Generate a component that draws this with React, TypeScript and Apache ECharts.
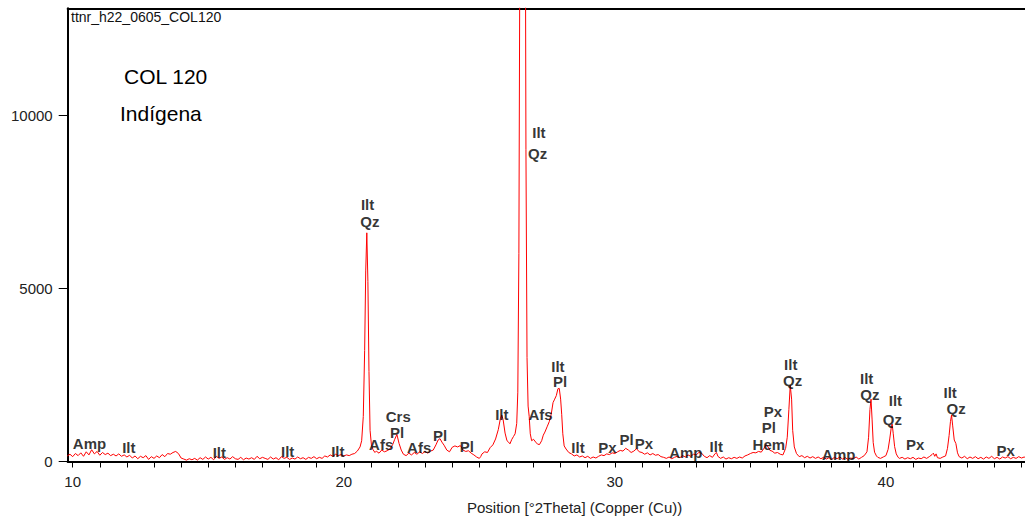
import React, { useEffect, useRef } from "react";
import * as echarts from "echarts";

// Measured XRD pattern: [2Theta, counts]
const pattern: [number, number][] = [
  [9.8, 160], [9.9, 210], [10.0, 140], [10.1, 230], [10.2, 170], [10.3, 250], [10.4, 150], [10.5, 280],
  [10.6, 190], [10.7, 340], [10.8, 220], [10.9, 290], [11.0, 180], [11.1, 260], [11.2, 200], [11.3, 240],
  [11.4, 170], [11.5, 210], [11.6, 160], [11.7, 220], [11.8, 150], [11.9, 190], [12.0, 130], [12.1, 180],
  [12.2, 100], [12.3, 160], [12.4, 80], [12.5, 150], [12.6, 110], [12.7, 170], [12.8, 60], [12.9, 140],
  [13.0, 90], [13.1, 160], [13.2, 110], [13.3, 200], [13.4, 140], [13.5, 230], [13.6, 210], [13.7, 260],
  [13.8, 290], [13.9, 230], [14.0, 100], [14.1, 70], [14.2, 40], [14.3, 80], [14.4, 50], [14.5, 90],
  [14.6, 40], [14.7, 110], [14.8, 60], [14.9, 130], [15.0, 70], [15.1, 120], [15.2, 50], [15.3, 150],
  [15.4, 90], [15.5, 130], [15.6, 60], [15.7, 110], [15.8, 70], [15.9, 140], [16.0, 80], [16.1, 60],
  [16.2, 120], [16.3, 50], [16.4, 100], [16.5, 70], [16.6, 110], [16.7, 60], [16.8, 150], [16.9, 80],
  [17.0, 120], [17.1, 90], [17.2, 60], [17.3, 130], [17.4, 70], [17.5, 110], [17.6, 50], [17.7, 140],
  [17.8, 90], [17.9, 120], [18.0, 60], [18.1, 100], [18.2, 70], [18.3, 130], [18.4, 80], [18.5, 110],
  [18.6, 60], [18.7, 120], [18.8, 90], [18.9, 140], [19.0, 80], [19.1, 120], [19.2, 90], [19.3, 160],
  [19.4, 130], [19.5, 190], [19.6, 150], [19.7, 210], [19.8, 170], [19.9, 200], [20.0, 160], [20.1, 190],
  [20.2, 170], [20.3, 210], [20.4, 230], [20.5, 300], [20.6, 420], [20.66, 600], [20.72, 1300],
  [20.77, 3200], [20.81, 5500], [20.85, 6600], [20.89, 5200], [20.93, 2600], [20.97, 900], [21.02, 480],
  [21.08, 340], [21.15, 260], [21.2, 300], [21.3, 240], [21.4, 330], [21.5, 280], [21.6, 310],
  [21.7, 360], [21.8, 480], [21.88, 640], [21.96, 780], [22.04, 520], [22.12, 330], [22.2, 210],
  [22.3, 170], [22.4, 240], [22.5, 190], [22.6, 260], [22.7, 210], [22.8, 280], [22.9, 230], [23.0, 290],
  [23.1, 240], [23.2, 300], [23.3, 330], [23.4, 480], [23.48, 620], [23.55, 660], [23.62, 560],
  [23.7, 470], [23.8, 330], [23.9, 280], [24.0, 410], [24.1, 450], [24.2, 420], [24.3, 460], [24.4, 330],
  [24.5, 290], [24.6, 310], [24.7, 240], [24.8, 190], [24.9, 130], [25.0, 90], [25.05, 140], [25.1, 220],
  [25.2, 280], [25.3, 260], [25.4, 400], [25.5, 480], [25.6, 650], [25.7, 920], [25.78, 1250],
  [25.83, 1340], [25.88, 1200], [25.95, 820], [26.02, 600], [26.08, 560], [26.13, 510], [26.2, 640],
  [26.26, 720], [26.32, 800], [26.38, 1100], [26.42, 2000], [26.46, 6000], [26.5, 16000], [26.56, 30000],
  [26.62, 34000], [26.68, 22000], [26.72, 9000], [26.76, 3000], [26.8, 1600], [26.84, 1300], [26.88, 800],
  [26.93, 600], [27.0, 640], [27.08, 560], [27.15, 500], [27.22, 490], [27.3, 600], [27.36, 760],
  [27.42, 850], [27.5, 1000], [27.58, 1150], [27.65, 1350], [27.72, 1700], [27.78, 1800], [27.84, 1900],
  [27.9, 2100], [27.95, 2110], [28.0, 1800], [28.04, 1350], [28.08, 800], [28.13, 450], [28.2, 360],
  [28.3, 260], [28.4, 220], [28.5, 160], [28.6, 190], [28.7, 130], [28.8, 160], [28.9, 110], [29.0, 150],
  [29.1, 90], [29.2, 130], [29.3, 100], [29.4, 150], [29.5, 190], [29.6, 170], [29.7, 220], [29.8, 200],
  [29.9, 250], [30.0, 230], [30.1, 280], [30.2, 320], [30.3, 300], [30.4, 380], [30.5, 330], [30.6, 260],
  [30.7, 300], [30.8, 370], [30.9, 280], [31.0, 260], [31.1, 210], [31.2, 250], [31.3, 190], [31.4, 230],
  [31.5, 180], [31.6, 200], [31.7, 140], [31.8, 120], [31.9, 90], [32.0, 130], [32.1, 80], [32.2, 120],
  [32.3, 150], [32.4, 110], [32.5, 170], [32.6, 130], [32.7, 190], [32.8, 150], [32.9, 210], [33.0, 190],
  [33.1, 260], [33.2, 240], [33.3, 150], [33.4, 110], [33.5, 170], [33.6, 120], [33.7, 230], [33.75, 260],
  [33.8, 150], [33.9, 90], [34.0, 130], [34.1, 70], [34.2, 110], [34.3, 80], [34.4, 120], [34.5, 90],
  [34.6, 130], [34.7, 100], [34.8, 160], [34.9, 190], [35.0, 230], [35.1, 260], [35.2, 250], [35.3, 290],
  [35.4, 270], [35.5, 380], [35.58, 490], [35.65, 420], [35.72, 320], [35.8, 300], [35.9, 240], [36.0, 260],
  [36.1, 210], [36.2, 190], [36.3, 380], [36.36, 700], [36.42, 1500], [36.47, 2200], [36.52, 1800],
  [36.56, 900], [36.62, 420], [36.7, 230], [36.8, 140], [36.9, 170], [37.0, 110], [37.1, 150], [37.2, 100],
  [37.3, 140], [37.4, 90], [37.5, 130], [37.6, 80], [37.7, 120], [37.8, 70], [37.9, 110], [38.0, 60],
  [38.1, 120], [38.2, 80], [38.3, 130], [38.4, 70], [38.5, 110], [38.6, 60], [38.7, 100], [38.8, 80],
  [38.9, 130], [39.0, 70], [39.1, 120], [39.2, 170], [39.3, 280], [39.36, 700], [39.41, 1500],
  [39.45, 1800], [39.49, 1200], [39.53, 550], [39.58, 270], [39.65, 160], [39.7, 120], [39.8, 90],
  [39.9, 130], [40.0, 170], [40.08, 350], [40.14, 650], [40.2, 1000], [40.23, 1080], [40.27, 800],
  [40.32, 430], [40.38, 220], [40.45, 120], [40.5, 90], [40.6, 120], [40.7, 70], [40.8, 110], [40.9, 80],
  [41.0, 120], [41.1, 60], [41.2, 100], [41.3, 80], [41.4, 130], [41.5, 90], [41.6, 140], [41.7, 200],
  [41.75, 240], [41.8, 150], [41.85, 220], [41.9, 110], [42.0, 90], [42.1, 130], [42.2, 160], [42.27, 380],
  [42.33, 750], [42.38, 1150], [42.42, 1340], [42.46, 1050], [42.52, 620], [42.58, 520], [42.64, 250],
  [42.7, 140], [42.8, 100], [42.9, 150], [43.0, 80], [43.1, 130], [43.2, 90], [43.3, 140], [43.4, 80],
  [43.5, 120], [43.6, 70], [43.7, 130], [43.8, 90], [43.9, 150], [44.0, 80], [44.1, 120], [44.2, 70],
  [44.3, 130], [44.4, 100], [44.5, 140], [44.6, 80], [44.7, 120], [44.8, 90], [44.9, 140], [45.0, 100],
  [45.1, 130], [45.2, 90],
];

// Phase labels (name, 2Theta, counts at label centre)
const phaseNames = [
  "Amp", "Ilt", "Ilt", "Ilt", "Ilt", "Ilt", "Qz", "Afs", "Crs", "Pl", "Afs", "Pl", "Pl", "Ilt",
  "Ilt", "Qz", "Afs", "Ilt", "Pl", "Ilt", "Px", "Pl", "Px", "Amp", "Ilt", "Px", "Pl", "Hem",
  "Ilt", "Qz", "Amp", "Ilt", "Qz", "Ilt", "Qz", "Px", "Ilt", "Qz", "Px",
];
const phaseX = [
  10.62, 12.07, 15.41, 17.93, 19.78, 20.88, 20.96, 21.38, 22.01, 21.97, 22.78, 23.55, 24.54, 25.83,
  27.2, 27.15, 27.26, 27.9, 27.98, 28.64, 29.73, 30.43, 31.07, 32.62, 33.74, 35.83, 35.68, 35.68,
  36.49, 36.56, 38.26, 39.29, 39.41, 40.35, 40.24, 41.08, 42.37, 42.59, 44.42,
];
const phaseY = [
  516, 401, 266, 295, 295, 7429, 6913, 487, 1310, 830, 401, 745, 438, 1347,
  9483, 8890, 1347, 2750, 2300, 401, 401, 630, 516, 258, 430, 1440, 975, 505,
  2810, 2340, 200, 2390, 1920, 1756, 1203, 487, 1990, 1530, 324,
];

const xLabelValues = [10, 20, 30, 40];
const xTickValues = [10, 11, 12, 13, 14, 15, 16, 17, 18, 19, 20, 21, 22, 23, 24, 25, 26, 27, 28, 29, 30, 31, 32, 33, 34, 35, 36, 37, 38, 39, 40, 41, 42, 43, 44, 45];
const yTickValues = [0, 5000, 10000];

const sampleTitle = "ttnr_h22_0605_COL120";
const sampleName = "COL 120";
const sampleType = "Indígena";
const xAxisTitle = "Position [°2Theta] (Copper (Cu))";

const FONT = "'Liberation Sans', Arial, Helvetica, sans-serif";

export default function App() {
  const ref = useRef<HTMLDivElement>(null);
  useEffect(() => {
    if (!ref.current) return;
    const chart = echarts.init(ref.current, null, { renderer: "svg" });
    const X_MIN = 9.816;
    const X_MAX = 45.13;
    chart.setOption({
      animation: false,
      backgroundColor: "#ffffff",
      grid: { left: 67.7, right: 0, top: 8.3, bottom: 61.5, containLabel: false },
      xAxis: [
        {
          type: "value",
          min: X_MIN,
          max: X_MAX,
          position: "bottom",
          axisLine: { show: true, onZero: false, lineStyle: { color: "#000", width: 2 } },
          axisTick: { show: true, inside: false, length: 6, customValues: xTickValues, lineStyle: { color: "#000", width: 1 } },
          axisLabel: { show: true, customValues: xLabelValues, margin: 12, fontSize: 15, color: "#222", fontFamily: FONT, formatter: (v: number) => String(v) },
          splitLine: { show: false },
        },
        {
          type: "value",
          min: X_MIN,
          max: X_MAX,
          position: "top",
          axisLine: { show: true, onZero: false, lineStyle: { color: "#000", width: 2 } },
          axisTick: { show: false },
          axisLabel: { show: false },
          splitLine: { show: false },
        },
      ],
      yAxis: {
        type: "value",
        min: 0,
        max: 13080,
        axisLine: { show: true, onZero: false, lineStyle: { color: "#000", width: 2 } },
        axisTick: { show: true, inside: false, length: 9, customValues: yTickValues, lineStyle: { color: "#000", width: 1 } },
        axisLabel: { show: true, customValues: yTickValues, margin: 15, fontSize: 15, color: "#222", fontFamily: FONT, formatter: (v: number) => String(v) },
        splitLine: { show: false },
      },
      graphic: [
        { type: "text", left: 71, top: 10, style: { text: sampleTitle, font: `14px ${FONT}`, fill: "#111" } },
        { type: "text", left: 124, top: 66, style: { text: sampleName, font: `21px ${FONT}`, fill: "#000" } },
        { type: "text", left: 120, top: 103, style: { text: sampleType, font: `21px ${FONT}`, fill: "#000" } },
        { type: "text", left: 467, top: 500, style: { text: xAxisTitle, font: `15px ${FONT}`, fill: "#222" } },
      ],
      series: [
        {
          type: "line",
          data: pattern,
          showSymbol: false,
          symbol: "none",
          clip: true,
          lineStyle: { color: "#ff0000", width: 1 },
          xAxisIndex: 0,
          z: 2,
        },
        {
          type: "scatter",
          xAxisIndex: 0,
          symbolSize: 2,
          itemStyle: { color: "rgba(0,0,0,0)" },
          silent: true,
          z: 5,
          data: phaseNames.map((n, i) => ({ name: n, value: [phaseX[i], phaseY[i]] })),
          label: {
            show: true,
            position: "inside",
            formatter: (p: any) => p.name,
            fontSize: 15,
            fontWeight: "bold",
            lineHeight: 13,
            fontFamily: FONT,
            color: "#000",
          },
        },
      ],
    });
    return () => chart.dispose();
  }, []);
  return <div ref={ref} style={{ position: "fixed", left: 0, top: 0, width: 1025, height: 523 }} />;
}
